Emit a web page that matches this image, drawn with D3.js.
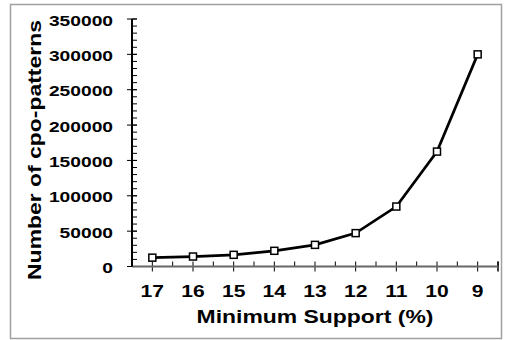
<!DOCTYPE html>
<html>
<head>
<meta charset="utf-8">
<script src="https://cdn.jsdelivr.net/npm/d3@7"></script>
<style>
  body { margin: 0; background: #fff; }
  text { font-family: "Liberation Sans", Arial, sans-serif; font-weight: bold; fill: #000; }
</style>
</head>
<body>
<div id="chart"></div>
<script>
var w = 507
var h = 340

// data
var supports = ["17", "16", "15", "14", "13", "12", "11", "10", "9"]
var patterns = [12500, 14100, 16500, 22200, 30600, 47200, 84800, 162500, 300000]
var yTicks = [0, 50000, 100000, 150000, 200000, 250000, 300000, 350000]

var plotLeft = 132, plotRight = 498, plotTop = 19, plotBottom = 266.5
var stretch = 1.24   // the glyphs in the picture are drawn wide

var svg = d3.select("#chart").append("svg").attr("width", w).attr("height", h)

// outer frame
svg.append("rect")
    .attr("x", 10.5).attr("y", 4.5)
    .attr("width", 491).attr("height", 334)
    .attr("fill", "none")
    .attr("stroke", "#a0a0a0")
    .attr("stroke-width", 1.5)

var x = d3.scalePoint().domain(supports).range([plotLeft, plotRight]).padding(0.5)
var y = d3.scaleLinear().domain([0, 350000]).range([plotBottom, plotTop])

var band = x.step()

// y axis: minor ticks every 10000 (inside), major every 50000 (crossing)
var yMinor = d3.range(0, 350001, 10000)
svg.selectAll("line.yminor")
    .data(yMinor)
    .enter()
    .append("line")
    .attr("x1", plotLeft).attr("x2", plotLeft + 5)
    .attr("y1", function(d) { return y(d) })
    .attr("y2", function(d) { return y(d) })
    .attr("stroke", "#000").attr("stroke-width", 1)

svg.selectAll("line.ymajor")
    .data(yTicks)
    .enter()
    .append("line")
    .attr("x1", plotLeft - 5).attr("x2", plotLeft + 5)
    .attr("y1", function(d) { return y(d) })
    .attr("y2", function(d) { return y(d) })
    .attr("stroke", "#000").attr("stroke-width", 1)

svg.selectAll("text.ylab")
    .data(yTicks)
    .enter()
    .append("text")
    .attr("text-anchor", "end")
    .attr("font-size", 15.5)
    .attr("transform", function(d) {
        return "translate(113," + (y(d) + 6.5) + ") scale(" + stretch + ",1)"
    })
    .text(function(d) { return d })

// x axis: minor ticks at band edges (inside), major at categories (crossing)
var edges = d3.range(0, supports.length + 1).map(function(i) { return plotLeft + i * band })
svg.selectAll("line.xminor")
    .data(edges)
    .enter()
    .append("line")
    .attr("x1", function(d) { return d })
    .attr("x2", function(d) { return d })
    .attr("y1", plotBottom - 5).attr("y2", plotBottom)
    .attr("stroke", "#000").attr("stroke-width", 1)

svg.append("line")
    .attr("x1", plotRight).attr("x2", plotRight)
    .attr("y1", plotBottom - 5).attr("y2", plotBottom + 5)
    .attr("stroke", "#000").attr("stroke-width", 1.5)

svg.selectAll("line.xmajor")
    .data(supports)
    .enter()
    .append("line")
    .attr("x1", function(d) { return x(d) })
    .attr("x2", function(d) { return x(d) })
    .attr("y1", plotBottom - 5).attr("y2", plotBottom + 5)
    .attr("stroke", "#000").attr("stroke-width", 1)

svg.selectAll("text.xlab")
    .data(supports)
    .enter()
    .append("text")
    .attr("text-anchor", "middle")
    .attr("font-size", 17)
    .attr("transform", function(d) {
        return "translate(" + x(d) + ",297) scale(" + stretch + ",1)"
    })
    .text(function(d) { return d })

// axis lines
svg.append("line")
    .attr("x1", plotLeft).attr("x2", plotRight)
    .attr("y1", plotBottom).attr("y2", plotBottom)
    .attr("stroke", "#666").attr("stroke-width", 2)
svg.append("line")
    .attr("x1", plotLeft).attr("x2", plotLeft)
    .attr("y1", plotTop).attr("y2", plotBottom)
    .attr("stroke", "#000").attr("stroke-width", 2)

// titles
svg.append("text")
    .attr("text-anchor", "middle")
    .attr("font-size", 18.5)
    .attr("transform", "translate(" + (plotLeft + plotRight) / 2 + ",323) scale(" + stretch + ",1)")
    .text("Minimum Support (%)")

svg.append("text")
    .attr("text-anchor", "middle")
    .attr("font-size", 18.5)
    .attr("transform", "translate(41,150) rotate(-90) scale(" + stretch + ",1)")
    .text("Number of cpo-patterns")

// line + markers
var line = d3.line()
    .x(function(d, i) { return x(supports[i]) })
    .y(function(d) { return y(d) })

svg.append("path")
    .datum(patterns)
    .attr("d", line)
    .attr("fill", "none")
    .attr("stroke", "#000")
    .attr("stroke-width", 2.7)

svg.selectAll("rect.mark")
    .data(patterns)
    .enter()
    .append("rect")
    .attr("x", function(d, i) { return x(supports[i]) - 3.5 })
    .attr("y", function(d) { return y(d) - 3.5 })
    .attr("width", 7).attr("height", 7)
    .attr("fill", "#fff")
    .attr("stroke", "#000")
    .attr("stroke-width", 1.5)
</script>
</body>
</html>
